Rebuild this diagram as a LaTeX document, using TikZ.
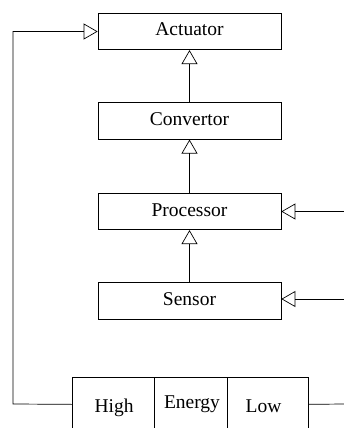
\documentclass[tikz,border=0pt]{standalone}
\usepackage{fontspec}
\setmainfont{Liberation Serif}
\usetikzlibrary{arrows.meta}
\begin{document}
\begin{tikzpicture}[x=1pt,y=-1pt,
  line width=0.7pt,
  every node/.style={font=\fontsize{19.5}{22}\selectfont},
  blk/.style={draw, minimum width=183pt, minimum height=36.5pt, inner sep=0pt,
    text height=13pt, text depth=4pt},
  cell/.style={draw, anchor=north west, minimum height=54pt, inner sep=0pt},
  lbl/.style={anchor=base, inner sep=0pt},
  tri/.style={-{Triangle[open,length=14pt,width=16pt]}}]
  \useasboundingbox (0,0) rectangle (344,428);
  \clip (0,0) rectangle (344,428);

  % processing chain
  \node[blk] (act)  at (189.5,31.5)  {Actuator};
  \node[blk] (conv) at (189.5,121)   {Convertor};
  \node[blk] (proc) at (189.5,211.5) {Processor};
  \node[blk] (sens) at (189.5,301)   {Sensor};

  \draw[tri] (conv) -- (act);
  \draw[tri] (proc) -- (conv);
  \draw[tri] (sens) -- (proc);

  % energy bar
  \node[cell, minimum width=82pt] (high)   at (72,377)  {};
  \node[cell, minimum width=73pt] (energy) at (154,377) {};
  \node[cell, minimum width=81pt] (low)    at (227,377) {};
  \node[lbl] at (114,412) {High};
  \node[lbl] at (192,408) {Energy};
  \node[lbl] at (263.5,412) {Low};

  % external inputs and feedback
  \coordinate (fb)   at (13,404);
  \coordinate (pin)  at (344,211.5);
  \coordinate (sin)  at (344,299);
  \coordinate (lout) at (344,404);

  \draw[tri] (high.west) -- (fb) |- (act.west);
  \draw[tri] (pin) -- (proc.east);
  \draw[tri] (sin) -- (sens.east |- sin);
  \draw (low.east) -- (lout);
\end{tikzpicture}
\end{document}
